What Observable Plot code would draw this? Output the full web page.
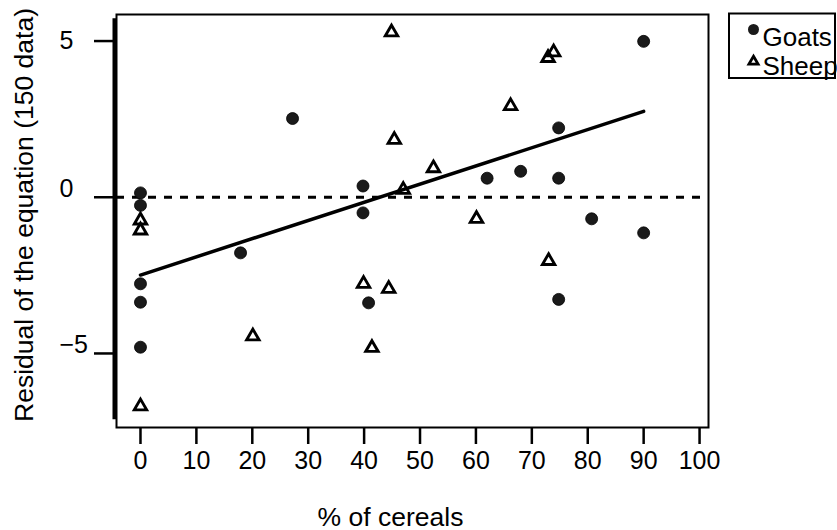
<!DOCTYPE html>
<html>
<head>
<meta charset="utf-8">
<script src="https://cdn.jsdelivr.net/npm/d3@7"></script>
<script src="https://cdn.jsdelivr.net/npm/@observablehq/plot@0.6"></script>
<style>
  html, body { margin: 0; padding: 0; background: white; }
</style>
</head>
<body>
<div id="chart"></div>
<script>
// ---- data ----
const goatsX = [0, 0, 0, 0, 0, 17.9, 27.2, 39.8, 39.8, 40.8, 62.0, 68.0, 74.8, 74.8, 74.8, 80.7, 90.0, 90.0];
const goatsY = [0.14, -0.26, -2.77, -3.36, -4.80, -1.78, 2.52, 0.36, -0.50, -3.38, 0.61, 0.83, 2.22, 0.61, -3.27, -0.69, 4.99, -1.14];
const sheepX = [0, 0, 0, 20.1, 44.9, 73.9, 72.9, 66.2, 45.4, 52.4, 47.0, 60.1, 73.0, 39.9, 44.4, 41.4];
const sheepY = [-0.74, -1.06, -6.69, -4.45, 5.28, 4.64, 4.46, 2.92, 1.84, 0.93, 0.24, -0.69, -2.04, -2.77, -2.93, -4.82];
const fitX = [0, 90];
const fitY = [-2.49, 2.75];
const xTicks = [0, 10, 20, 30, 40, 50, 60, 70, 80, 90, 100];
const yTicks = [5, 0, -5];
const yTicksA = [5];
const yTicksB = [0, -5];
const xDomain = [-4.29, 101.6];
const yDomain = [-7.37, 5.85];
const yAxisExtent = [-7.12, 5.71];
const xTitle = "% of cereals";
const yTitle = "Residual of the equation (150 data)";
const legendLabels = ["Goats", "Sheep"];

const goats = goatsX.map((x, i) => ({x, y: goatsY[i]}));
const sheep = sheepX.map((x, i) => ({x, y: sheepY[i]}));
const fit = fitX.map((x, i) => ({x, y: fitY[i]}));

const font = "'Liberation Sans', Arial, Helvetica, sans-serif";
const fmt = d => d < 0 ? "\u2212" + Math.abs(d) : String(d);

const chart = Plot.plot({
  width: 837,
  height: 530,
  marginLeft: 116,
  marginRight: 129,
  marginTop: 14,
  marginBottom: 103,
  style: {fontFamily: font, background: "white", color: "black", overflow: "visible"},
  x: {domain: xDomain},
  y: {domain: yDomain},
  marks: [
    Plot.frame({stroke: "black", strokeWidth: 2}),
    Plot.ruleX([xDomain[0]], {y1: yAxisExtent[0], y2: yAxisExtent[1], strokeWidth: 4, dx: -2}),
    Plot.axisX({ticks: xTicks, tickSize: 17, tickPadding: 7, fontSize: 25, strokeWidth: 2.5, label: null}),
    // y ticks (lines only)
    Plot.axisY({ticks: yTicks, tickSize: 21, tickFormat: () => "", strokeWidth: 2.5, label: null, dx: -1}),
    // y tick labels
    Plot.axisY({ticks: yTicksA, tickSize: 0, tickPadding: 57, textAnchor: "start", fontSize: 25, label: null, tickFormat: fmt}),
    Plot.axisY({ticks: yTicksB, tickSize: 0, tickPadding: 57, textAnchor: "start", fontSize: 25, label: null, dy: -8, tickFormat: fmt}),
    Plot.ruleY([0], {strokeDasharray: "8,8", strokeWidth: 3}),
    Plot.line(fit, {x: "x", y: "y", strokeWidth: 3.5}),
    Plot.dot(goats, {x: "x", y: "y", r: 6, symbol: "circle", fill: "#1a1a1a", stroke: "black", strokeWidth: 0.8}),
    Plot.dot(sheep, {x: "x", y: "y", r: 4.6, symbol: "triangle", stroke: "black", strokeWidth: 2.9, fill: "none"}),
    Plot.text([yTitle], {frameAnchor: "left", textAnchor: "middle", rotate: -90, dx: -92, dy: -6, fontSize: 26.5}),
    Plot.text([xTitle], {frameAnchor: "bottom", textAnchor: "middle", dx: -22, dy: 98, lineAnchor: "bottom", fontSize: 26.5}),
    // legend
    Plot.dot([legendLabels[0]], {frameAnchor: "top-right", dx: 45, dy: 15, r: 5.5, symbol: "circle", fill: "#1a1a1a"}),
    Plot.dot([legendLabels[1]], {frameAnchor: "top-right", dx: 45, dy: 47, r: 3.4, symbol: "triangle", stroke: "black", strokeWidth: 2.8, fill: "none"}),
    Plot.text([legendLabels[0]], {frameAnchor: "top-right", dx: 54, dy: 31, textAnchor: "start", lineAnchor: "bottom", fontSize: 26}),
    Plot.text([legendLabels[1]], {frameAnchor: "top-right", dx: 54, dy: 60, textAnchor: "start", lineAnchor: "bottom", fontSize: 26})
  ]
});

// legend box
d3.select(chart).append("rect")
  .attr("x", 729).attr("y", 13.5).attr("width", 106).attr("height", 64.5)
  .attr("fill", "none").attr("stroke", "black").attr("stroke-width", 2);

document.getElementById("chart").appendChild(chart);
</script>
</body>
</html>
